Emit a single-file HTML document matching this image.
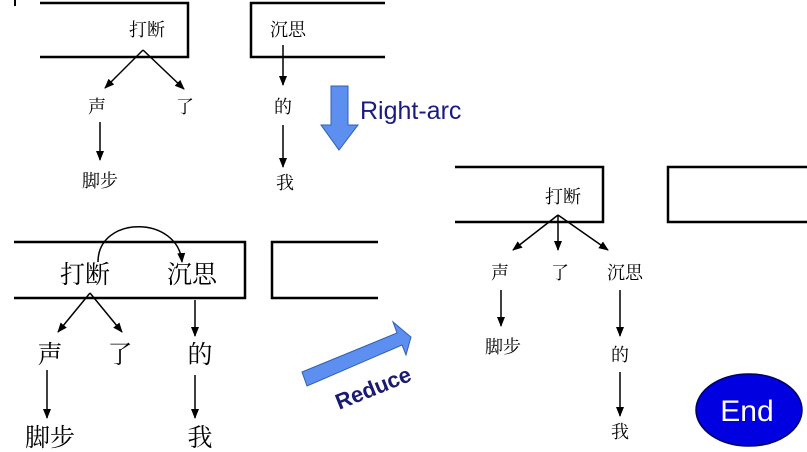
<!DOCTYPE html>
<html><head><meta charset="utf-8"><style>
html,body{margin:0;padding:0;background:#fff;}
svg{display:block;}
.c{font-family:"Liberation Serif","Noto Serif CJK SC","Noto Sans CJK SC",serif;fill:#000;text-anchor:middle;}
</style></head><body>
<svg width="807" height="452" viewBox="0 0 807 452" xmlns="http://www.w3.org/2000/svg">
<defs>
<marker id="a" markerWidth="10" markerHeight="10" refX="9" refY="5" orient="auto" markerUnits="userSpaceOnUse"><path d="M0,1 L10,5 L0,9 Z" fill="#000"/></marker>
</defs>
<g stroke="#000" stroke-width="2.5" fill="none">
<path d="M40,3 H188 V57 H40"/>
<path d="M385,3 H251 V57 H385"/>
<path d="M14,242 H245 V298 H14"/>
<path d="M378,242 H272 V298 H378"/>
<path d="M455,167 H603 V222 H455"/>
<path d="M807,167 H668 V222 H807"/>
</g>
<line x1="15" y1="0" x2="15" y2="6" stroke="#000" stroke-width="2"/>
<g stroke="#000" stroke-width="1.5" fill="none" marker-end="url(#a)">
<line x1="143" y1="50" x2="105" y2="88"/>
<line x1="143" y1="50" x2="184" y2="89"/>
<line x1="100" y1="122" x2="100" y2="160"/>
<line x1="283" y1="45" x2="283" y2="85"/>
<line x1="283" y1="125" x2="283" y2="167"/>
<path d="M98,262 C98,215 178,215 182,262"/>
<line x1="90" y1="293" x2="58" y2="332"/>
<line x1="90" y1="293" x2="122" y2="332"/>
<line x1="195" y1="300" x2="195" y2="336"/>
<line x1="47" y1="370" x2="47" y2="418"/>
<line x1="195" y1="375" x2="195" y2="418"/>
<line x1="558" y1="215" x2="513" y2="250"/>
<line x1="558" y1="215" x2="558" y2="250"/>
<line x1="558" y1="215" x2="608" y2="250"/>
<line x1="501" y1="290" x2="501" y2="326"/>
<line x1="620" y1="290" x2="620" y2="336"/>
<line x1="620" y1="372" x2="620" y2="416"/>
</g>
<g class="c" font-size="18">
<text x="147" y="36">打断</text>
<text x="288" y="36">沉思</text>
<text x="97" y="113">声</text>
<text x="185" y="113">了</text>
<text x="283" y="113">的</text>
<text x="100" y="187">脚步</text>
<text x="285" y="189">我</text>
<text x="563" y="203">打断</text>
<text x="500" y="279">声</text>
<text x="560" y="279">了</text>
<text x="625" y="279">沉思</text>
<text x="503" y="353">脚步</text>
<text x="620" y="361">的</text>
<text x="620" y="438">我</text>
</g>
<g class="c" font-size="25">
<text x="85" y="283">打断</text>
<text x="192" y="283">沉思</text>
<text x="50" y="363">声</text>
<text x="120" y="363">了</text>
<text x="200" y="363">的</text>
<text x="50" y="446">脚步</text>
<text x="200" y="446">我</text>
</g>
<path d="M331,86 H348 V125 H358 L339,150 L321,125 H331 Z" fill="#5c8ff0" stroke="#3060b0" stroke-width="1"/>
<text x="360" y="119" font-family="Liberation Sans,sans-serif" font-size="25" fill="#1a1a80">Right-arc</text>
<path d="M302,372 L397,333 L393,322 L411,337 L406,355 L402,345 L307,386 Z" fill="#5c8ff0" stroke="#3060b0" stroke-width="1"/>
<text transform="translate(376,395) rotate(-22)" text-anchor="middle" font-family="Liberation Sans,sans-serif" font-weight="bold" font-size="22" fill="#1a1a70">Reduce</text>
<ellipse cx="749" cy="410" rx="53" ry="36" fill="#0000e0" stroke="#000060" stroke-width="1.5"/>
<text x="747" y="421" text-anchor="middle" font-family="Liberation Sans,sans-serif" font-size="30" fill="#fff">End</text>
</svg>
</body></html>
